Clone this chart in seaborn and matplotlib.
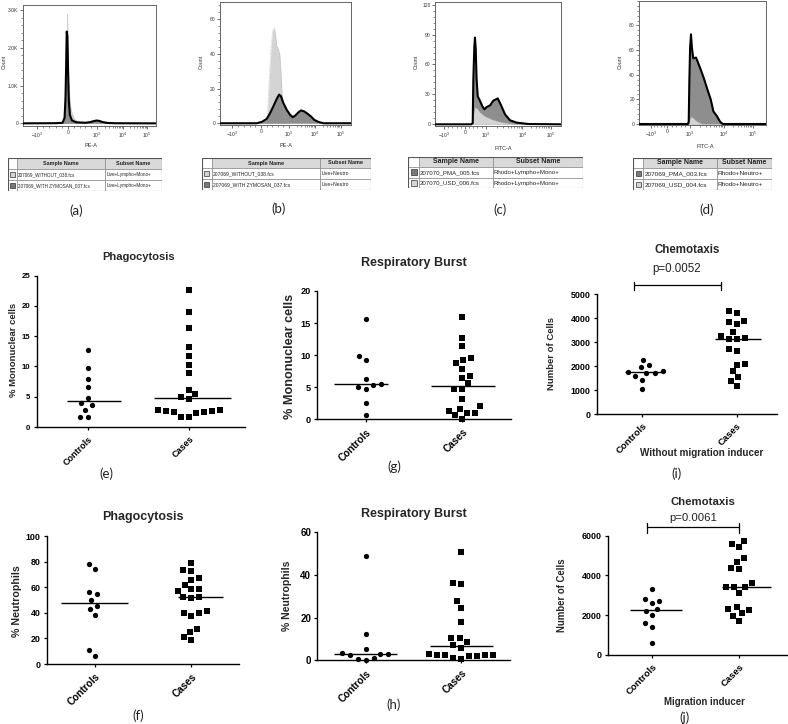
import numpy as np
import matplotlib
matplotlib.use("Agg")
import matplotlib.pyplot as plt
import seaborn as sns
from matplotlib.patches import Rectangle
from matplotlib.lines import Line2D
from matplotlib.collections import PathCollection
from matplotlib.ticker import AutoMinorLocator

# ---------------- data ----------------
hist_tick_labels = [r'$-10^3$', '0', r'$10^3$', r'$10^4$', r'$10^5$']

# (a) PE-A, mononuclear
a_light_x = [0.00, 0.300, 0.318, 0.326, 0.332, 0.337, 0.341, 0.346, 0.352, 0.360, 0.372, 0.390, 0.420, 0.470, 1.00]
a_light_y = [0, 5, 150, 700, 1800, 2900, 2200, 1300, 800, 450, 250, 120, 40, 10, 0]
a_dark_x = [0.00, 0.250, 0.300, 0.315, 0.322, 0.327, 0.331, 0.336, 0.341, 0.347, 0.355, 0.370, 0.400,
            0.470, 0.510, 0.540, 0.556, 0.575, 0.600, 0.640, 0.700, 1.00]
a_dark_y = [0, 5, 15, 150, 700, 1600, 2430, 2300, 1400, 600, 220, 80, 30, 15, 35, 65, 75, 65, 35, 10, 3, 0]

# (b) PE-A, neutrophils
b_light_x = [0.0, 0.350, 0.362, 0.375, 0.390, 0.403, 0.413, 0.423, 0.434, 0.446, 0.457, 0.467, 0.477, 0.487, 0.503, 0.523, 1.0]
b_light_y = [0, 0, 3, 23, 42.7, 53, 55, 52, 44.7, 42.7, 39.8, 29, 13.6, 5.8, 1.9, 0, 0]
b_dark_x = [0.0, 0.28, 0.32, 0.357, 0.383, 0.408, 0.434, 0.452, 0.467, 0.485, 0.510, 0.536, 0.556, 0.574,
            0.599, 0.620, 0.645, 0.671, 0.696, 0.722, 0.753, 0.791, 1.0]
b_dark_y = [0, 0, 0.8, 2.5, 5.8, 9.7, 14, 16.5, 15.5, 11.6, 7.8, 4.9, 3.5, 4.3, 6.2, 7.4, 6.8, 5.4, 3.9, 1.9, 0.8, 0, 0]

# (c) FITC-A, mononuclear
c_dark_x = [0.0, 0.286, 0.300, 0.305, 0.313, 0.318, 0.324, 0.331, 0.340, 0.358, 0.377, 0.393, 0.408, 0.438,
            0.464, 0.499, 0.526, 0.557, 0.597, 0.650, 0.743, 1.0]
c_dark_y = [0, 0, 1, 45, 78, 87, 75, 45, 28, 23.5, 18, 15, 17, 19, 23.7, 26, 19, 10, 4, 1.7, 0.3, 0]
c_light_x = [0.0, 0.298, 0.303, 0.308, 0.318, 0.334, 0.358, 0.398, 0.451, 0.504, 0.557, 0.637, 1.0]
c_light_y = [0, 0, 6, 12, 17, 16, 12, 8, 5, 3, 1.5, 0.3, 0]

# (d) FITC-A, neutrophils
d_dark_x = [0.0, 0.385, 0.391, 0.396, 0.402, 0.409, 0.416, 0.427, 0.449, 0.464, 0.488, 0.512, 0.538, 0.565,
            0.586, 0.612, 0.639, 0.660, 1.0]
d_dark_y = [0, 0, 2, 35, 62, 72.8, 62, 53.3, 53.9, 50, 43.6, 36.7, 28.3, 20, 10.3, 6.7, 1.9, 0, 0]
d_light_x = [0.0, 0.392, 0.398, 0.409, 0.425, 0.445, 0.470, 0.500, 1.0]
d_light_y = [0, 0, 3, 6, 5, 3, 1.5, 0, 0]

# tables
table_a_samples = ['207069_WITHOUT_038.fcs', '207069_WITH ZYMOSAN_037.fcs']
table_a_subsets = ['Live+Lympho+Mono+', 'Live+Lympho+Mono+']
table_a_shades = ['light', 'dark']
table_b_samples = ['207069_WITHOUT_038.fcs', '207069_WITH ZYMOSAN_037.fcs']
table_b_subsets = ['Live+Neutro', 'Live+Neutro']
table_b_shades = ['light', 'dark']
table_c_samples = ['207070_PMA_005.fcs', '207070_USD_006.fcs']
table_c_subsets = ['Rhodo+Lympho+Mono+', 'Rhodo+Lympho+Mono+']
table_c_shades = ['dark', 'light']
table_d_samples = ['207069_PMA_003.fcs', '207069_USD_004.fcs']
table_d_subsets = ['Rhodo+Neutro+', 'Rhodo+Neutro+']
table_d_shades = ['dark', 'light']

# dot plots
groups = ['Controls', 'Cases']
e_controls = [12.7, 9.8, 7.9, 6.6, 4.8, 3.9, 3.6, 2.8, 1.6, 1.6]
e_cases = [22.6, 18.9, 16.3, 13.2, 11.7, 10.3, 8.9, 6.1, 5.4, 4.9, 4.6, 2.8, 2.8, 2.3, 1.7, 2.4, 2.4, 2.7, 1.7, 2.6]
g_controls = [15.7, 9.8, 9.2, 6.3, 5.1, 5.5, 5.35, 4.7, 2.6, 0.7]
g_cases = [16.0, 12.7, 11.4, 9.5, 9.3, 8.7, 7.9, 6.75, 6.5, 5.6, 4.7, 4.7, 3.2, 2.0, 1.65, 1.3, 1.0, 1.0, 0.6, 0.0]
i_controls = [2270, 2060, 1950, 1760, 1800, 1730, 1700, 1590, 1420, 1060]
i_cases = [4320, 4230, 3890, 3830, 3770, 3440, 3270, 3190, 3150, 3150, 2730, 2620, 2090, 2060, 1780, 1530, 1380, 1160]
f_controls = [78.1, 74.0, 56.3, 54.4, 50.0, 45.6, 42.7, 38.0, 10.9, 6.5]
f_cases = [78.6, 73.7, 72.4, 66.9, 65.9, 61.7, 58.9, 58.3, 57.0, 52.3, 52.3, 51.8, 41.1, 40.1, 39.8, 37.2,
           27.3, 24.7, 20.8, 18.75]
h_controls = [49.1, 12.2, 5.3, 3.4, 3.1, 3.1, 2.3, 0.9, 0.7, 0.3]
h_cases = [50.8, 36.25, 35.6, 27.7, 24.5, 17.8, 10.6, 10.5, 8.75, 7.0, 6.0, 3.0, 2.6, 2.3, 2.3, 2.3, 1.9, 1.9, 1.25, 0.6]
j_controls = [3310, 2820, 2720, 2590, 2300, 2200, 1980, 1580, 1380, 605]
j_cases = [5730, 5580, 5410, 4860, 4690, 4390, 4320, 3610, 3420, 3410, 3410, 3110, 2390, 2290, 2240, 2080, 1970, 1710]

# ---------------- figure ----------------
W, H = 788, 724
sns.set_theme(style="white")
plt.rcParams['font.family'] = ['Liberation Sans', 'DejaVu Sans']
plt.rcParams['mathtext.fontset'] = 'custom'
plt.rcParams['mathtext.rm'] = 'Liberation Sans'
plt.rcParams['mathtext.it'] = 'Liberation Sans'

fig = plt.figure(figsize=(W / 100, H / 100), dpi=100)
fig.patch.set_facecolor('white')


def box(x0, y0, x1, y1):
    return [x0 / W, 1 - y1 / H, (x1 - x0) / W, (y1 - y0) / H]


def ftext(x, y, s, **kw):
    kw.setdefault('ha', 'center')
    kw.setdefault('va', 'center')
    fig.text(x / W, 1 - y / H, s, **kw)


def fline(xs, ys, lw=0.9, color='black'):
    fig.add_artist(Line2D([x / W for x in xs], [1 - y / H for y in ys], lw=lw, color=color,
                          transform=fig.transFigure))


LIGHT_FILL = '#d4d4d4'
DARK_FILL = '#8e8e8e'


def hist_panel(rect, xt, ylim, yticks, yticklabels, curves):
    x0, y0, x1, y1 = rect
    ax = fig.add_axes(box(x0, y0, x1, y1))
    ax.set_facecolor('white')
    for cx, cy, kind in curves:
        ax.fill_between(cx, cy, 0, color=LIGHT_FILL if kind == 'light' else DARK_FILL, lw=0, zorder=2)
    for cx, cy, kind in curves:
        if kind == 'light':
            sns.lineplot(x=cx, y=cy, sort=False, estimator=None, color='#a8a8a8', lw=0.5,
                         linestyle=':', ax=ax, zorder=3)
        else:
            sns.lineplot(x=cx, y=cy, sort=False, estimator=None, color='black', lw=1.5, ax=ax, zorder=4)
    ax.set_xlim(0, 1)
    ax.set_ylim(*ylim)
    ax.set_xticks(xt)
    ax.set_xticklabels(hist_tick_labels, fontsize=3.6, color='#333333')
    minor = []
    for a, b in [(xt[0], xt[1]), (xt[1], xt[2])]:
        minor += list(np.linspace(a, b, 6)[1:-1])
    for a, b in [(xt[2], xt[3]), (xt[3], xt[4])]:
        minor += [a + (b - a) * np.log10(m) for m in range(2, 10)]
    ax.set_xticks(minor, minor=True)
    ax.set_yticks(yticks)
    ax.set_yticklabels(yticklabels, fontsize=3.6, color='#333333')
    ax.yaxis.set_minor_locator(AutoMinorLocator(5))
    ax.tick_params(axis='both', which='major', direction='out', length=2.2, width=0.5, pad=1,
                   color='#333333', bottom=True, left=True)
    ax.tick_params(axis='both', which='minor', direction='out', length=1.2, width=0.4, color='#333333',
                   bottom=True, left=True)
    for sp in ax.spines.values():
        sp.set_color('#666666')
        sp.set_linewidth(0.7)
    ax.set_xlabel('')
    ax.set_ylabel('')
    return ax


def draw_table(xs, ys, samples, subsets, shades, fs, hfs):
    ax = fig.add_axes(box(xs[0], ys[0], xs[-1], ys[-1]))
    ax.set_xlim(xs[0], xs[-1])
    ax.set_ylim(ys[-1], ys[0])
    ax.axis('off')
    for c in (1, 2):
        ax.add_patch(Rectangle((xs[c], ys[0]), xs[c + 1] - xs[c], ys[1] - ys[0],
                               facecolor='#d9d9d9', edgecolor='#8a8a8a', lw=0.5))
    ax.add_patch(Rectangle((xs[0], ys[0]), xs[1] - xs[0], ys[1] - ys[0],
                           facecolor='white', edgecolor='#8a8a8a', lw=0.5))
    ax.text((xs[1] + xs[2]) / 2, (ys[0] + ys[1]) / 2, 'Sample Name', ha='center', va='center',
            fontsize=hfs, fontweight='bold', color='#222222')
    ax.text((xs[2] + xs[3]) / 2, (ys[0] + ys[1]) / 2, 'Subset Name', ha='center', va='center',
            fontsize=hfs, fontweight='bold', color='#222222')
    for r in range(2):
        top, bot = ys[r + 1], ys[r + 2]
        for c in range(3):
            ax.add_patch(Rectangle((xs[c], top), xs[c + 1] - xs[c], bot - top,
                                   facecolor='white', edgecolor='#8a8a8a', lw=0.5))
        sw = min(xs[1] - xs[0], bot - top) * 0.55
        cxm = (xs[0] + xs[1]) / 2
        cym = (top + bot) / 2
        ax.add_patch(Rectangle((cxm - sw / 2, cym - sw / 2), sw, sw,
                               facecolor=LIGHT_FILL if shades[r] == 'light' else '#7a7a7a',
                               edgecolor='#333333', lw=0.5))
        ax.text(xs[1] + 1.2, cym, samples[r], ha='left', va='center', fontsize=fs, color='#222222')
        ax.text(xs[2] + 1.2, cym, subsets[r], ha='left', va='center', fontsize=fs, color='#222222')
    ax.add_patch(Rectangle((xs[0], ys[0]), xs[-1] - xs[0], ys[-1] - ys[0],
                           facecolor='none', edgecolor='#555555', lw=0.8))


swarm_axes = []
SWARM_CALC = 5.6
MARK = 3.8


def dot_panel(rect, xlim, ylim, yticks, controls, cases, offsets, ytick_fs, xtick_fs):
    x0, y0, x1, y1 = rect
    ax = fig.add_axes(box(x0, y0, x1, y1))
    ax.set_facecolor('none')
    sns.swarmplot(x=[groups[0]] * len(controls), y=controls, order=groups, marker='o', color='black',
                  size=SWARM_CALC, linewidth=0, ax=ax, clip_on=False)
    sns.swarmplot(x=[groups[1]] * len(cases), y=cases, order=groups, marker='s', color='black',
                  size=SWARM_CALC, linewidth=0, ax=ax, clip_on=False)
    for i, vals in enumerate([controls, cases]):
        med = np.median(vals)
        lo, hi = offsets[i]
        ax.hlines(med, i + lo, i + hi, colors='black', lw=1.0, zorder=5)
    ax.set_xlim(*xlim)
    ax.set_ylim(*ylim)
    ax.set_yticks(yticks)
    ax.set_yticklabels([str(t) for t in yticks], fontsize=ytick_fs, fontweight='bold')
    ax.set_xticks([0, 1])
    ax.set_xticklabels(groups, rotation=45, ha='right', rotation_mode='anchor',
                       fontsize=xtick_fs, fontweight='bold')
    ax.tick_params(axis='both', direction='out', length=2.5, width=0.9, color='black', pad=2,
                   labelcolor='black', bottom=True, left=True)
    ax.tick_params(axis='x', pad=3)
    for s in ('top', 'right'):
        ax.spines[s].set_visible(False)
    for s in ('left', 'bottom'):
        ax.spines[s].set_color('black')
        ax.spines[s].set_linewidth(1.0)
    ax.set_xlabel('')
    ax.set_ylabel('')
    swarm_axes.append(ax)
    return ax


# ---- histograms ----
hist_panel((22.7, 4.7, 155.7, 126), [0.108, 0.341, 0.559, 0.754, 0.935], (-70, 3140),
           [0, 1000, 2000, 3000], ['0', '1.0K', '2.0K', '3.0K'],
           [(a_light_x, a_light_y, 'light'), (a_dark_x, a_dark_y, 'dark')])
hist_panel((220, 2.3, 350.7, 125), [0.094, 0.314, 0.528, 0.727, 0.923], (-1.0, 69.6),
           [0, 20, 40, 60], ['0', '20', '40', '60'],
           [(b_light_x, b_light_y, 'light'), (b_dark_x, b_dark_y, 'dark')])
hist_panel((435, 1.7, 560.7, 126), [0.072, 0.239, 0.403, 0.695, 0.920], (-1.7, 123),
           [0, 30, 60, 90, 120], ['0', '30', '60', '90', '120'],
           [(c_dark_x, c_dark_y, 'dark'), (c_light_x, c_light_y, 'light')])
hist_panel((639.3, 0.8, 765.7, 125), [0.090, 0.222, 0.401, 0.670, 0.897], (-0.8, 100),
           [0, 20, 40, 60, 80], ['0', '20', '40', '60', '80'],
           [(d_dark_x, d_dark_y, 'dark'), (d_light_x, d_light_y, 'light')])

for x, y in [(4, 62), (201, 62), (416.7, 62), (620.7, 62)]:
    ftext(x, y, 'Count', rotation=90, fontsize=3.8, color='#333333')
ftext(90.7, 145.7, 'PE-A', fontsize=4.0, color='#333333')
ftext(285.7, 145.7, 'PE-A', fontsize=4.0, color='#333333')
ftext(503.3, 148, 'FITC-A', fontsize=4.0, color='#333333')
ftext(705.7, 146.7, 'FITC-A', fontsize=4.0, color='#333333')

draw_table([8, 17, 105, 162], [158.3, 169.3, 180, 191], table_a_samples, table_a_subsets, table_a_shades, 3.3, 3.9)
draw_table([201.7, 211.7, 320, 370.7], [157.7, 168.3, 179, 190], table_b_samples, table_b_subsets,
           table_b_shades, 3.6, 4.0)
draw_table([408.3, 419, 492.7, 583.3], [156.7, 167, 177.7, 188.3], table_c_samples, table_c_subsets,
           table_c_shades, 4.4, 5.0)
draw_table([633.3, 643.3, 716.7, 772.3], [157.7, 168.3, 179, 190], table_d_samples, table_d_subsets,
           table_d_shades, 4.6, 5.0)

# ---- dot plots ----
dot_panel((36.7, 275.5, 245, 427), (-0.508, 1.554), (0, 25), [0, 5, 10, 15, 20, 25],
          e_controls, e_cases, [(-0.21, 0.33), (-0.35, 0.42)], 5.6, 6.5)
dot_panel((316.7, 291, 510.7, 419.3), (-0.512, 1.503), (0, 20), [0, 5, 10, 15, 20],
          g_controls, g_cases, [(-0.33, 0.23), (-0.33, 0.34)], 6.6, 7.2)
dot_panel((596.7, 294.3, 776.7, 414), (-0.483, 1.424), (0, 5000), [0, 1000, 2000, 3000, 4000, 5000],
          i_controls, i_cases, [(-0.18, 0.22), (-0.23, 0.26)], 6.4, 6.8)
dot_panel((46.7, 536, 239.3, 664), (-0.502, 1.498), (0, 100), [0, 20, 40, 60, 80, 100],
          f_controls, f_cases, [(-0.35, 0.34), (-0.135, 0.33)], 6.4, 7.2)
dot_panel((317.3, 532.3, 510, 660.3), (-0.506, 1.509), (0, 60), [0, 20, 40, 60],
          h_controls, h_cases, [(-0.33, 0.33), (-0.33, 0.33)], 7.0, 7.2)
dot_panel((607.7, 535.7, 786.7, 654.7), (-0.513, 1.545), (0, 6000), [0, 2000, 4000, 6000],
          j_controls, j_cases, [(-0.26, 0.34), (-0.20, 0.36)], 6.4, 6.8)

# titles / labels
ftext(139, 257, 'Phagocytosis', fontsize=8, fontweight='bold')
ftext(414, 263, 'Respiratory Burst', fontsize=9, fontweight='bold')
ftext(687, 250, 'Chemotaxis', fontsize=8.3, fontweight='bold')
ftext(143, 517, 'Phagocytosis', fontsize=9, fontweight='bold')
ftext(414, 514, 'Respiratory Burst', fontsize=9, fontweight='bold')
ftext(703, 502, 'Chemotaxis', fontsize=8.2, fontweight='bold')

ftext(677, 269, 'p=0.0052', fontsize=8.3, color='#222222')
ftext(693, 517.7, 'p=0.0061', fontsize=8.2, color='#222222')
fline([634.3, 720.7], [285, 285])
fline([634.3, 634.3], [281.7, 290])
fline([720.7, 720.7], [281.7, 290])
fline([647.3, 739.3], [527.3, 527.3])
fline([647.3, 647.3], [522.7, 532.7])
fline([739.3, 739.3], [522.7, 532.7])

ftext(14, 350, '% Mononuclear cells', rotation=90, fontsize=6.8, fontweight='bold')
ftext(290, 356, '% Mononuclear cells', rotation=90, fontsize=9.1, fontweight='bold')
ftext(551.7, 354, 'Number of Cells', rotation=90, fontsize=6.8, fontweight='bold')
ftext(16.7, 600.7, '% Neutrophils', rotation=90, fontsize=7.7, fontweight='bold')
ftext(286.7, 596, '% Neutrophils', rotation=90, fontsize=7.6, fontweight='bold')
ftext(561.7, 595, 'Number of Cells', rotation=90, fontsize=6.9, fontweight='bold')

ftext(702, 453, 'Without migration inducer', fontsize=7.1, fontweight='bold')
ftext(704, 702, 'Migration inducer', fontsize=6.9, fontweight='bold')

for lab, x, y in [('(a)', 76, 211), ('(b)', 279, 209), ('(c)', 500, 210), ('(d)', 707, 210),
                  ('(e)', 106, 474), ('(g)', 394, 467), ('(i)', 677, 474),
                  ('(f)', 138, 716), ('(h)', 394, 705), ('(j)', 684, 718)]:
    ftext(x, y, lab, fontsize=9.5, family=['Lato', 'DejaVu Sans'], color='#222222')

# compute swarm layout with wider spacing, then freeze it and shrink markers
fig.canvas.draw()
for ax in swarm_axes:
    for coll in ax.collections:
        if isinstance(coll, PathCollection):
            if 'draw' in coll.__dict__:
                del coll.draw
            coll.set_sizes([MARK ** 2])

fig.savefig('out.png', dpi=100, facecolor='white')
